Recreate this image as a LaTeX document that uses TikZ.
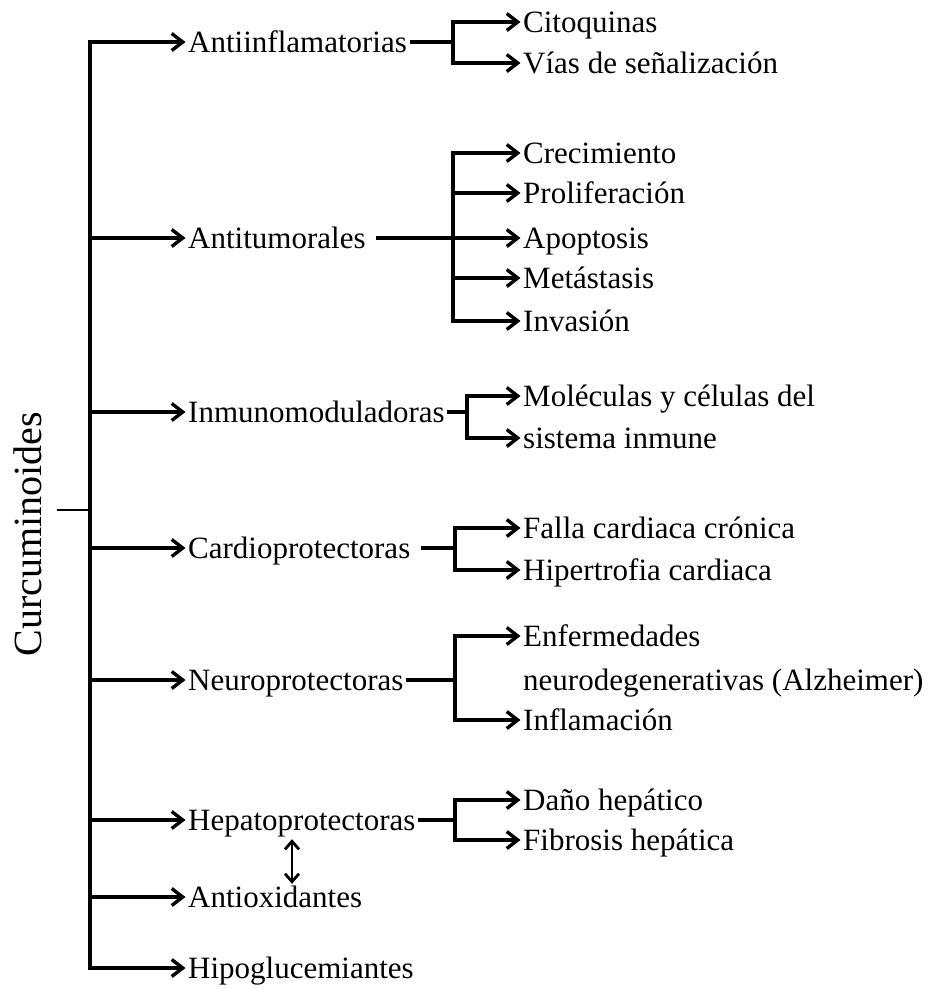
\documentclass[tikz,border=0pt]{standalone}
\usepackage{fontspec}
\setmainfont{Liberation Serif}
\usetikzlibrary{arrows.meta}
\begin{document}
\begin{tikzpicture}[x=1pt,y=-1pt,
  conn/.style={line width=3.4pt,line join=miter},
  arr/.style={conn,-{Straight Barb[length=11pt,width=17pt]}},
  dbl/.style={line width=2.8pt,{Straight Barb[length=8pt,width=14pt]}-{Straight Barb[length=8pt,width=14pt]}},
  thinl/.style={line width=1.8pt},
  lab/.style={font=\fontsize{31}{36}\selectfont,anchor=west,inner sep=2.5pt,text height=28pt,text depth=7pt},
  sub/.style={lab,font=\fontsize{31}{36}\selectfont},
  rootlab/.style={font=\fontsize{40}{46}\selectfont,rotate=90,inner sep=0pt}
]
\useasboundingbox (0,0) rectangle (932,989);
% root
\node[rootlab] (root) at (28,534) {Curcuminoides};
\coordinate (top) at (90,42);
\coordinate (rt) at (57,510);
% level 1
\node[lab] (a1) at (185.5,42)  {Antiinflamatorias};
\node[lab] (a2) at (185.5,238) {Antitumorales};
\node[lab] (a3) at (185.5,412) {Inmunomoduladoras};
\node[lab] (a4) at (185.5,548) {Cardioprotectoras};
\node[lab] (a5) at (185.5,680) {Neuroprotectoras};
\node[lab] (a6) at (185.5,820) {Hepatoprotectoras};
\node[lab] (a7) at (185.5,897) {Antioxidantes};
\node[lab] (a8) at (185.5,968) {Hipoglucemiantes};
% level 2
\node[sub] (b11) at (520.5,22)  {Citoquinas};
\node[sub] (b12) at (520.5,63)  {Vías de señalización};
\node[sub] (b21) at (520.5,153) {Crecimiento};
\node[sub] (b22) at (520.5,193) {Proliferación};
\node[sub] (b23) at (520.5,238) {Apoptosis};
\node[sub] (b24) at (520.5,278) {Metástasis};
\node[sub] (b25) at (520.5,321) {Invasión};
\node[sub] (b31) at (520.5,396) {Moléculas y células del};
\node[sub] (b32) at (520.5,438) {sistema inmune};
\node[sub] (b41) at (520.5,528) {Falla cardiaca crónica};
\node[sub] (b42) at (520.5,570) {Hipertrofia cardiaca};
\node[sub] (b51) at (520.5,636) {Enfermedades};
\node[sub] (b52) at (520.5,680) {neurodegenerativas (Alzheimer)};
\node[sub] (b53) at (520.5,720) {Inflamación};
\node[sub] (b61) at (520.5,800) {Daño hepático};
\node[sub] (b62) at (520.5,840) {Fibrosis hepática};
% junctions
\coordinate (j1) at (453,42);
\coordinate (j2) at (453,238);
\coordinate (j3) at (467,412);
\coordinate (j4) at (455,548);
\coordinate (j5) at (455,680);
\coordinate (j6) at (455,820);
\coordinate (dx) at (292,0);
% spine
\draw[thinl] (rt) -- (rt -| top);
\draw[arr] (a8.west -| top) |- (a1.west);
\draw[arr] ([yshift=10pt]a8.west -| top) |- (a8.west);
\foreach \n in {a2,a3,a4,a5,a6,a7}{\draw[arr] (\n.west -| top) -- (\n.west);}
% Antiinflamatorias
\draw[conn] (a1.east) -- (j1);
\draw[arr] (j1) |- (b11.west);
\draw[arr] (j1) |- (b12.west);
% Antitumorales
\draw[arr] ([xshift=8pt]a2.east) -- (b23.west);
\foreach \n in {b21,b22,b24,b25}{\draw[arr] (j2) |- (\n.west);}
% Inmunomoduladoras
\draw[conn] (a3.east) -- (j3);
\draw[arr] (j3) |- (b31.west);
\draw[arr] (j3) |- (b32.west);
% Cardioprotectoras
\draw[conn] ([xshift=8pt]a4.east) -- (j4);
\draw[arr] (j4) |- (b41.west);
\draw[arr] (j4) |- (b42.west);
% Neuroprotectoras
\draw[conn] (a5.east) -- (j5);
\draw[arr] (j5) |- (b51.west);
\draw[arr] (j5) |- (b53.west);
% Hepatoprotectoras
\draw[conn] (a6.east) -- (j6);
\draw[arr] (j6) |- (b61.west);
\draw[arr] (j6) |- (b62.west);
% double arrow
\draw[dbl,shorten <=-1pt,shorten >=-7pt] (a6.south -| dx) -- (a7.north -| dx);
\end{tikzpicture}
\end{document}
